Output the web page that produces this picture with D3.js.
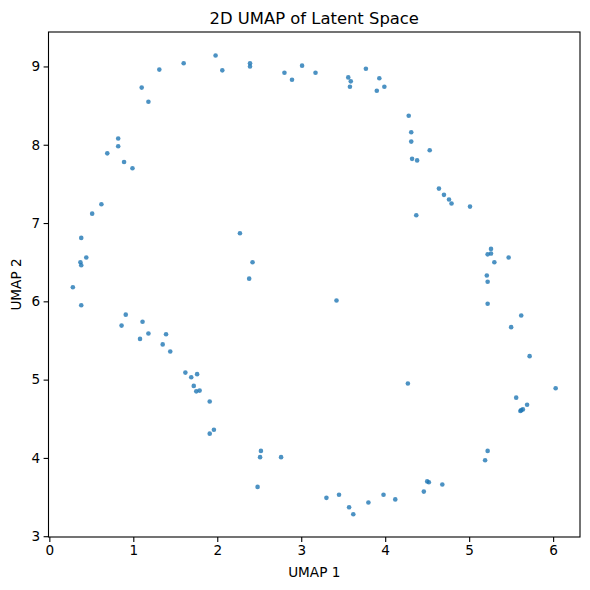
<!DOCTYPE html>
<html lang="en">
<head>
<meta charset="UTF-8">
<title>2D UMAP of Latent Space</title>
<script src="https://d3js.org/d3.v7.min.js"></script>
<style>
  body { margin: 0; background: #fff; }
  svg text { font-family: "DejaVu Sans", sans-serif; fill: #000; }
</style>
</head>
<body>
<svg id="chart" width="590" height="590"></svg>
<script>
// point coordinates
const umap1 = [
  0.51, 0.62, 0.69, 0.82, 0.82, 0.89, 0.99, 1.10, 1.18, 1.31,
  1.60, 1.98, 2.06, 2.39, 2.39, 2.80, 2.89, 3.01, 3.17, 3.56,
  3.59, 3.58, 3.77, 3.93, 3.99, 3.90, 4.28, 4.31, 4.31, 4.53,
  4.32, 4.38, 4.64, 4.70, 4.76, 4.79, 5.01, 4.37, 0.38, 0.44,
  0.37, 0.38, 0.28, 0.38, 2.27, 2.42, 2.38, 0.91, 0.86, 1.11,
  1.18, 1.08, 1.39, 1.35, 1.44, 1.62, 1.69, 1.76, 1.72, 1.75,
  1.79, 1.91, 1.96, 1.91, 2.52, 2.51, 2.76, 2.48, 5.26, 5.22,
  5.26, 5.30, 5.47, 5.21, 5.22, 5.22, 5.62, 5.50, 5.72, 3.42,
  4.27, 6.03, 5.56, 5.69, 5.64, 5.62, 5.61, 5.22, 5.19, 4.50,
  4.52, 4.68, 4.46, 3.30, 3.45, 3.57, 3.62, 3.80, 3.98, 4.12
];
const umap2 = [
  7.12, 7.24, 7.89, 8.08, 7.98, 7.78, 7.70, 8.73, 8.55, 8.96,
  9.04, 9.14, 8.95, 9.04, 9.00, 8.92, 8.83, 9.01, 8.92, 8.86,
  8.81, 8.74, 8.97, 8.85, 8.74, 8.69, 8.37, 8.16, 8.04, 7.93,
  7.82, 7.80, 7.44, 7.36, 7.30, 7.25, 7.21, 7.10, 6.81, 6.56,
  6.50, 6.46, 6.18, 5.95, 6.87, 6.50, 6.29, 5.83, 5.69, 5.74,
  5.59, 5.52, 5.58, 5.45, 5.36, 5.09, 5.03, 5.07, 4.92, 4.85,
  4.86, 4.72, 4.36, 4.31, 4.09, 4.01, 4.01, 3.63, 6.67, 6.60,
  6.61, 6.50, 6.56, 6.33, 6.25, 5.97, 5.82, 5.67, 5.30, 6.01,
  4.95, 4.89, 4.77, 4.68, 4.62, 4.61, 4.60, 4.09, 3.97, 3.70,
  3.69, 3.66, 3.57, 3.49, 3.53, 3.37, 3.28, 3.43, 3.53, 3.47
];
const xTicks = [0, 1, 2, 3, 4, 5, 6];
const yTicks = [3, 4, 5, 6, 7, 8, 9];

const svg = d3.select("#chart");

const x = d3.scaleLinear().domain([-0.01, 6.32]).range([48.5, 580]);
const y = d3.scaleLinear().domain([2.99, 9.44]).range([537, 32]);

const points = umap1.map((v, i) => ({ u1: v, u2: umap2[i] }));

svg.append("g")
  .selectAll("circle")
  .data(points)
  .enter()
  .append("circle")
  .attr("cx", d => x(d.u1))
  .attr("cy", d => y(d.u2))
  .attr("r", 2.3)
  .attr("fill", "#1f77b4")
  .attr("fill-opacity", 0.8);

// axes
const xAxis = svg.append("g")
  .attr("transform", "translate(0,537)")
  .call(d3.axisBottom(x).tickValues(xTicks).tickFormat(d3.format("d")).tickSize(4.9).tickPadding(3.5));
const yAxis = svg.append("g")
  .attr("transform", "translate(48.5,0)")
  .call(d3.axisLeft(y).tickValues(yTicks).tickFormat(d3.format("d")).tickSize(4.9).tickPadding(3.5));

[xAxis, yAxis].forEach(a => {
  a.select(".domain").remove();
  a.selectAll("line").attr("stroke", "#000").attr("stroke-width", 1.1);
  a.selectAll("text").style("font-size", "13.6px").style("font-family", "DejaVu Sans, sans-serif");
});

// frame
svg.append("rect")
  .attr("x", 48.5).attr("y", 32)
  .attr("width", 580 - 48.5).attr("height", 537 - 32)
  .attr("fill", "none")
  .attr("stroke", "#000")
  .attr("stroke-width", 1.1);

svg.append("text")
  .attr("x", (48.5 + 580) / 2).attr("y", 24)
  .attr("text-anchor", "middle")
  .style("font-size", "16.4px")
  .text("2D UMAP of Latent Space");

svg.append("text")
  .attr("x", (48.5 + 580) / 2).attr("y", 577)
  .attr("text-anchor", "middle")
  .style("font-size", "13.6px")
  .text("UMAP 1");

svg.append("text")
  .attr("transform", "translate(21," + ((32 + 537) / 2) + ") rotate(-90)")
  .attr("text-anchor", "middle")
  .style("font-size", "13.6px")
  .text("UMAP 2");
</script>
</body>
</html>
